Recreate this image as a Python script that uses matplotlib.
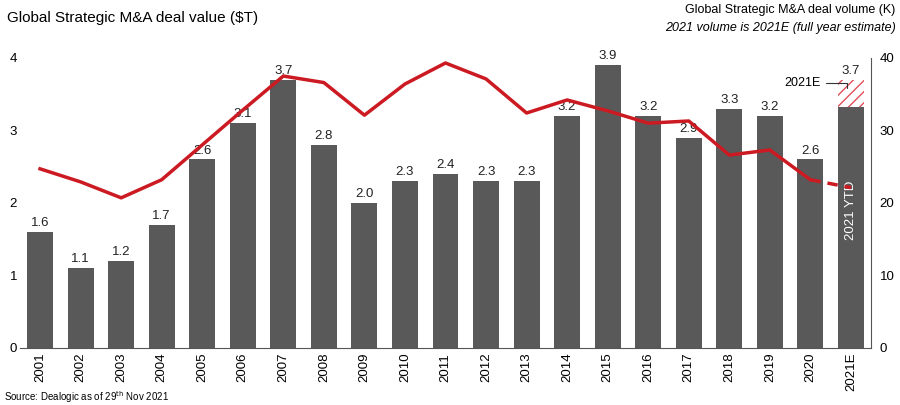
import matplotlib
matplotlib.use("Agg")
import matplotlib.pyplot as plt
plt.rcParams["font.family"] = "Liberation Sans"

years = ["2001","2002","2003","2004","2005","2006","2007","2008","2009","2010","2011",
         "2012","2013","2014","2015","2016","2017","2018","2019","2020","2021E"]
deal_value = [1.6,1.1,1.2,1.7,2.6,3.1,3.7,2.8,2.0,2.3,2.4,2.3,2.3,3.2,3.9,3.2,2.9,3.3,3.2,2.6,3.32]
estimate_2021 = 3.7
value_labels = ["1.6","1.1","1.2","1.7","2.6","3.1","3.7","2.8","2.0","2.3","2.4","2.3","2.3",
                "3.2","3.9","3.2","2.9","3.3","3.2","2.6","3.7"]
deal_volume = [24.7,22.9,20.7,23.2,28.0,32.8,37.5,36.6,32.1,36.4,39.3,37.1,32.4,34.2,32.7,
               31.0,31.3,26.6,27.3,23.2,22.1]

fig = plt.figure(figsize=(9, 4.05), dpi=100)
ax = fig.add_axes([0.022, 0.141, 0.946, 0.716])
x = list(range(len(years)))
ax.bar(x, deal_value, width=0.64, color="#595959")
ax.bar(x[-1], estimate_2021 - deal_value[-1], bottom=deal_value[-1], width=0.64,
       color="none", edgecolor="#e0505a", hatch="///", linewidth=0)
for i, lab in enumerate(value_labels):
    top = estimate_2021 if i == len(years) - 1 else deal_value[i]
    ax.text(i, top + 0.04, lab, ha="center", va="bottom", fontsize=9.5, color="#222222")
ax.text(x[-1], 1.9, "2021 YTD", rotation=90, ha="center", va="center", color="white", fontsize=9.5)
ax.annotate("2021E", xy=(x[-1] - 0.1, 3.55), xytext=(x[-1] - 0.75, 3.65),
            ha="right", va="center", fontsize=9,
            arrowprops=dict(arrowstyle="-", color="#333333", lw=0.8,
                            connectionstyle="angle,angleA=0,angleB=90,rad=0"))
ax.set_xlim(-0.5, len(years) - 0.5)
ax.set_ylim(0, 4)
ax.set_yticks([0, 1, 2, 3, 4])
ax.set_xticks(x)
ax.set_xticklabels(years, rotation=90, fontsize=9.5)
ax.tick_params(axis="y", length=0, labelsize=9.5, pad=2)
ax.tick_params(axis="x", length=0)
for s in ["top", "left", "right"]:
    ax.spines[s].set_visible(False)
ax.spines["bottom"].set_color("#555555")

ax2 = ax.twinx()
ax2.plot(x[:-1], deal_volume[:-1], color="#cc1a22", lw=2.5)
ax2.plot(x[-2:], deal_volume[-2:], color="#cc1a22", lw=2.5, ls=(0, (3, 2)))
ax2.set_ylim(0, 40)
ax2.set_yticks([0, 10, 20, 30, 40])
ax2.tick_params(axis="y", length=0, labelsize=9.5, pad=6)
for s in ["top", "left", "bottom"]:
    ax2.spines[s].set_visible(False)
ax2.spines["right"].set_color("#555555")

fig.text(0.008, 0.955, "Global Strategic M&A deal value ($T)", fontsize=11, va="center")
fig.text(0.995, 0.975, "Global Strategic M&A deal volume (K)", fontsize=9, ha="right", va="center")
fig.text(0.995, 0.93, "2021 volume is 2021E (full year estimate)", fontsize=9, ha="right",
         va="center", style="italic")
fig.text(0.005, 0.02, "Source: Dealogic as of 29$^{\\rm th}$ Nov 2021", fontsize=7, va="center")
fig.savefig("out.png", dpi=100)
